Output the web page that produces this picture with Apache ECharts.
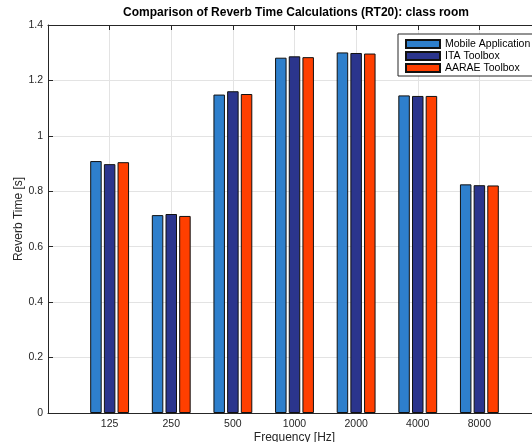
<!DOCTYPE html>
<html>
<head>
<meta charset="utf-8">
<script src="https://cdn.jsdelivr.net/npm/echarts@6/dist/echarts.min.js"></script>
<style>html,body{margin:0;padding:0;background:#fff}#c{width:532px;height:442px}</style>
</head>
<body>
<div id="c"></div>
<script>
var categories = ['125', '250', '500', '1000', '2000', '4000', '8000'];
var mobileApp = [0.909, 0.714, 1.149, 1.282, 1.301, 1.146, 0.825];
var itaToolbox = [0.898, 0.718, 1.161, 1.287, 1.299, 1.144, 0.822];
var aaraeToolbox = [0.905, 0.711, 1.151, 1.284, 1.297, 1.144, 0.821];
var yTicks = [0, 0.2, 0.4, 0.6, 0.8, 1, 1.2, 1.4];
var seriesNames = ['Mobile Application', 'ITA Toolbox', 'AARAE Toolbox'];
var colors = ['#2E7FCC', '#2B358D', '#FF3F00'];

var font = "'Liberation Sans', Arial, Helvetica, sans-serif";
function pts(arr) { return arr.map(function (v, i) { return [i + 1, v]; }); }
var chart = echarts.init(document.getElementById('c'), null, { renderer: 'canvas' });
var allData = [mobileApp, itaToolbox, aaraeToolbox];
var option = {
  animation: false,
  backgroundColor: '#fff',
  textStyle: { fontFamily: font },
  graphic: [{
    type: 'text', x: 296, y: 13,
    style: { text: 'Comparison of Reverb Time Calculations (RT20): class room', font: 'bold 12px ' + font, fill: '#000', textAlign: 'center', textVerticalAlign: 'middle' }
  }],
  grid: { left: 48, top: 25, width: 493, height: 388, containLabel: false, outerBoundsMode: 'none' },
  legend: {
    orient: 'vertical', left: 398, top: 34, data: seriesNames,
    itemWidth: 34, itemHeight: 8, itemGap: 0,
    padding: [4, 4, 2, 7],
    borderColor: '#262626', borderWidth: 1, backgroundColor: '#fff',
    icon: 'rect',
    textStyle: { fontSize: 10.5, fontFamily: font, color: '#000', lineHeight: 12 }
  },
  xAxis: [{
    type: 'value', min: 0, max: 8, interval: 1,
    name: 'Frequency [Hz]', nameLocation: 'middle', nameGap: 19, nameMoveOverlap: false,
    nameTextStyle: { fontSize: 12, color: '#262626', fontFamily: font },
    axisLine: { lineStyle: { color: '#262626', width: 1 } },
    axisTick: { inside: true, length: 5, lineStyle: { color: '#262626' } },
    axisLabel: {
      fontSize: 10.5, color: '#262626', margin: 6, fontFamily: font,
      formatter: function (v) { return (v >= 1 && v <= categories.length) ? categories[v - 1] : ''; }
    },
    splitLine: { show: true, lineStyle: { color: '#e3e3e3', width: 1 } }
  }, {
    type: 'value', min: 0, max: 8, interval: 1, position: 'top',
    axisLine: { show: true, lineStyle: { color: '#262626', width: 1 } },
    axisTick: { show: true, inside: true, length: 5, lineStyle: { color: '#262626' } },
    axisLabel: { show: false }, splitLine: { show: false }
  }],
  yAxis: {
    type: 'value', min: yTicks[0], max: yTicks[yTicks.length - 1], interval: 0.2,
    name: 'Reverb Time [s]', nameLocation: 'middle', nameGap: 23, nameMoveOverlap: false,
    nameTextStyle: { fontSize: 12, color: '#262626', fontFamily: font },
    axisLine: { show: true, lineStyle: { color: '#262626', width: 1 } },
    axisTick: { show: true, inside: true, length: 5, lineStyle: { color: '#262626' } },
    axisLabel: { fontSize: 10.5, color: '#262626', margin: 5, fontFamily: font,
      formatter: function (v) { return String(Math.round(v * 10) / 10); } },
    splitLine: { show: true, lineStyle: { color: '#e3e3e3', width: 1 } }
  },
  series: seriesNames.map(function (n, k) {
    return {
      name: n, type: 'bar', data: pts(allData[k]), xAxisIndex: 0,
      barWidth: 11.5, barGap: '19%',
      itemStyle: { color: colors[k], borderColor: '#111', borderWidth: 1 }
    };
  })
};
chart.setOption(option);
</script>
</body>
</html>
